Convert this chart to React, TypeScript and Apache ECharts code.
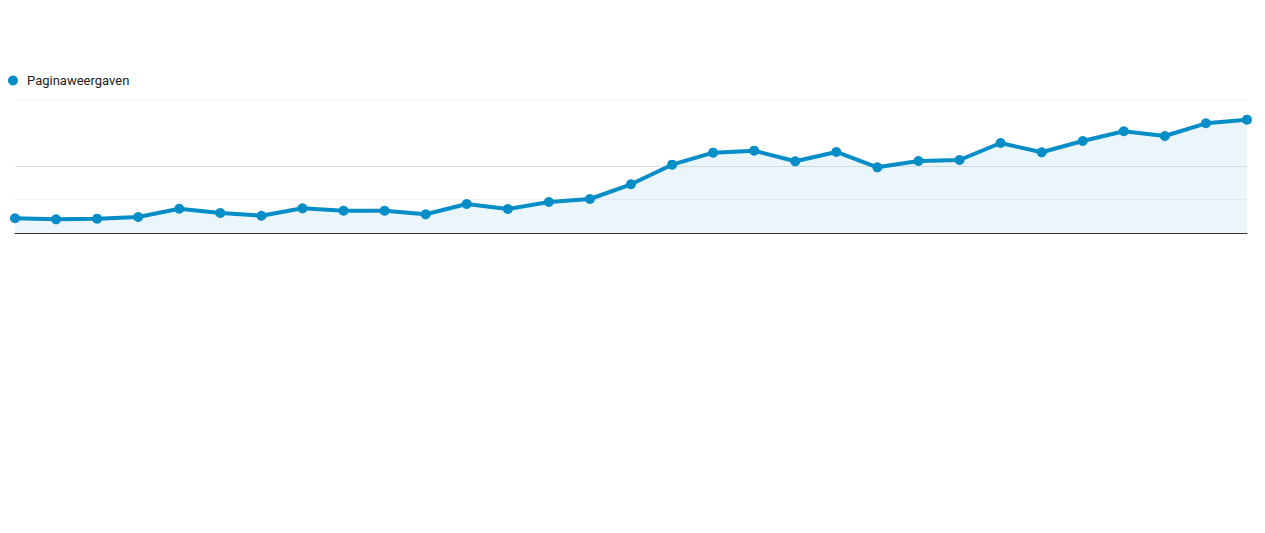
import React, { useEffect, useRef } from "react";
import * as echarts from "echarts";

const seriesName = "Paginaweergaven";
const days = [
  "1", "2", "3", "4", "5", "6", "7", "8", "9", "10",
  "11", "12", "13", "14", "15", "16", "17", "18", "19", "20",
  "21", "22", "23", "24", "25", "26", "27", "28", "29", "30", "31",
];
const pageviews = [
  439, 409, 427, 478, 725, 597, 516, 737, 666, 666,
  558, 866, 716, 925, 1015, 1454, 2039, 2397, 2457, 2140,
  2418, 1961, 2149, 2179, 2687, 2409, 2746, 3036, 2896, 3275, 3382,
];

export default function App() {
  const ref = useRef<HTMLDivElement>(null);
  useEffect(() => {
    if (!ref.current) return;
    const chart = echarts.init(ref.current, undefined, { renderer: "svg" });
    chart.setOption({
      animation: false,
      color: ["#058dc7"],
      legend: {
        show: true,
        left: 8,
        top: 74,
        padding: 0,
        icon: "circle",
        itemWidth: 10,
        itemHeight: 10,
        textStyle: {
          fontFamily: "Roboto, Arial, sans-serif",
          fontSize: 13,
          color: "#222",
          padding: [1, 0, 0, 4],
        },
        data: [seriesName],
      },
      grid: { left: 15, right: 18, top: 99, bottom: 300, containLabel: false },
      xAxis: {
        type: "category",
        data: days,
        boundaryGap: false,
        axisLine: { show: true, lineStyle: { color: "#333", width: 1 } },
        axisTick: { show: false },
        axisLabel: { show: false },
        splitLine: { show: false },
      },
      yAxis: {
        type: "value",
        min: 0,
        max: 4000,
        interval: 1000,
        axisLine: { show: false },
        axisTick: { show: false },
        axisLabel: { show: false },
        splitLine: {
          show: true,
          lineStyle: {
            color: ["#333333", "#f2f2f2", "#e2e2e2", "#ffffff", "#f6f6f6"],
            width: 1,
          },
        },
      },
      series: [
        {
          name: seriesName,
          type: "line",
          data: pageviews,
          symbol: "circle",
          symbolSize: 10,
          showSymbol: true,
          lineStyle: { width: 4, color: "#058dc7" },
          itemStyle: { color: "#058dc7" },
          areaStyle: { color: "rgba(5,141,199,0.12)" },
        },
      ],
    });
    return () => chart.dispose();
  }, []);
  return (
    <div
      ref={ref}
      style={{ position: "absolute", left: 0, top: 0, width: 1265, height: 533 }}
    />
  );
}
